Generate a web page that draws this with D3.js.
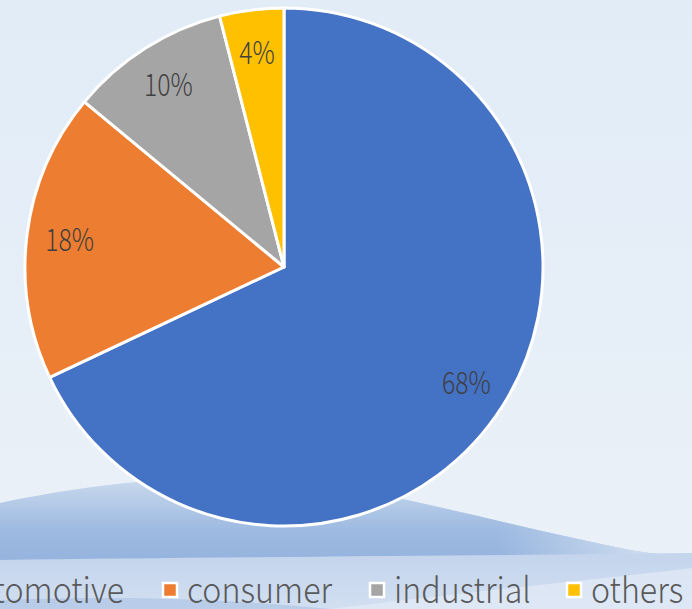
<!DOCTYPE html>
<html>
<head>
<meta charset="utf-8">
<script src="https://cdn.jsdelivr.net/npm/d3@7"></script>
<style>
  html, body { margin: 0; padding: 0; overflow: hidden; }
  svg { display: block; }
  text { font-family: "Noto Sans CJK SC", "Noto Sans", sans-serif; font-weight: 300; }
</style>
</head>
<body>
<svg id="chart"></svg>
<script>
// share of applications
const categories = ["automotive", "consumer", "industrial", "others"];
const shares     = [68, 18, 10, 4];
const colours    = ["#4472C4", "#ED7D31", "#A5A5A5", "#FFC000"];

const width = 692, height = 609;
const cx = 284, cy = 267, radius = 259;

const svg = d3.select("#chart").attr("width", width).attr("height", height);
const defs = svg.append("defs");

function vGrad(id, stops) {
  const gr = defs.append("linearGradient").attr("id", id)
    .attr("x1", 0).attr("y1", 0).attr("x2", 0).attr("y2", 1);
  stops.forEach(s => gr.append("stop").attr("offset", s[0]).attr("stop-color", s[1]));
}

// background
vGrad("bg", [["0%", "#e1ecf7"], ["100%", "#ebf1f8"]]);
vGrad("wave", [["0%", "#cbdaee"], ["40%", "#9dbae1"], ["100%", "#88a9d8"]]);
vGrad("band", [["0%", "#c3d4ec"], ["100%", "#d2dff1"]]);

const fade = defs.append("linearGradient").attr("id", "fade").attr("x1", 0).attr("y1", 0).attr("x2", 1).attr("y2", 0);
fade.append("stop").attr("offset", "0%").attr("stop-color", "#ebf1f8").attr("stop-opacity", 0);
fade.append("stop").attr("offset", "72%").attr("stop-color", "#ebf1f8").attr("stop-opacity", 0);
fade.append("stop").attr("offset", "100%").attr("stop-color", "#ebf1f8").attr("stop-opacity", 0.85);

svg.append("rect").attr("width", width).attr("height", height).attr("fill", "url(#bg)");

const waveD = "M0,503 C80,486 180,473 280,479 C380,488 500,524 630,550 C655,554 675,556 692,556 L692,609 L0,609 Z";
svg.append("path").attr("d", waveD).attr("fill", "url(#wave)");
svg.append("path").attr("d", waveD).attr("fill", "url(#fade)");

svg.append("path")
  .attr("d", "M0,560 C200,557 480,556 692,553 L692,609 L0,609 Z")
  .attr("fill", "url(#band)");
svg.append("path")
  .attr("d", "M330,609 C470,592 590,580 692,568 L692,609 Z")
  .attr("fill", "#e2ebf6").attr("opacity", 0.7);
svg.append("path")
  .attr("d", "M0,600 C120,596 220,598 330,609 L0,609 Z")
  .attr("fill", "#a9c1e5").attr("opacity", 0.6);

// pie
const pie = d3.pie().sort(null).value(d => d)(shares);
const arc = d3.arc().innerRadius(0).outerRadius(radius);
const labelArc = d3.arc().innerRadius(216).outerRadius(216);

const g = svg.append("g").attr("transform", `translate(${cx},${cy})`);

g.selectAll(".slice")
  .data(pie)
  .join("path")
  .attr("class", "slice")
  .attr("d", arc)
  .attr("fill", (d, i) => colours[i])
  .attr("stroke", "#ffffff")
  .attr("stroke-width", 3)
  .attr("stroke-linejoin", "round");

g.selectAll(".lbl")
  .data(pie)
  .join("g")
  .attr("class", "lbl")
  .attr("transform", d => `translate(${labelArc.centroid(d)})`)
  .append("text")
  .attr("transform", "scale(0.8,1)")
  .attr("text-anchor", "middle")
  .attr("dy", "0.36em")
  .attr("font-size", 31)
  .attr("fill", "#404040")
  .text(d => d.data + "%");

// legend
const legendX = [-67, 163, 370, 567];
const legend = svg.append("g");
const item = legend.selectAll(".item")
  .data(categories)
  .join("g")
  .attr("class", "item")
  .attr("transform", (d, i) => `translate(${legendX[i]},0)`);

item.append("rect")
  .attr("x", 0).attr("y", 583).attr("width", 14).attr("height", 14)
  .attr("fill", (d, i) => colours[i])
  .attr("stroke", "#ffffff").attr("stroke-width", 2.5);

item.append("text")
  .attr("x", 24).attr("y", 603)
  .attr("transform", "translate(24,0) scale(0.92,1) translate(-24,0)")
  .attr("font-size", 35)
  .attr("fill", "#595959")
  .text(d => d);
</script>
</body>
</html>
